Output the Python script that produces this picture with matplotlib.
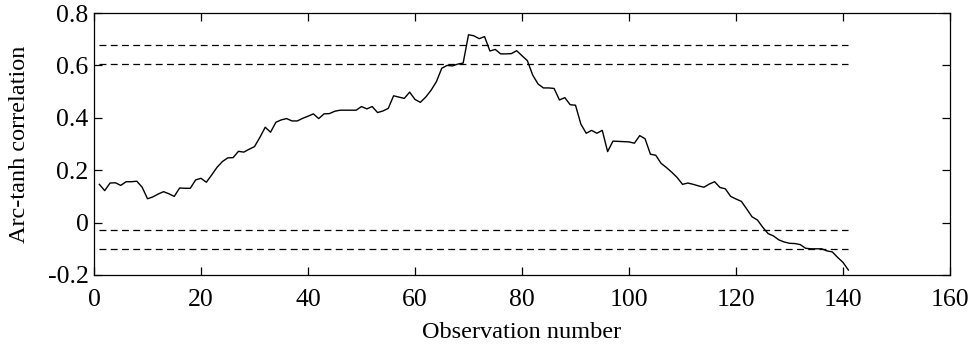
import matplotlib
matplotlib.use("Agg")
import matplotlib.pyplot as plt
import numpy as np

plt.rcParams['font.family'] = ['Liberation Serif', 'DejaVu Serif']

observation = list(range(1, 142))
arctanh_corr = [
    0.146, 0.122, 0.151, 0.152, 0.142, 0.156, 0.156, 0.158, 0.135, 0.091,
    0.098, 0.109, 0.118, 0.110, 0.100, 0.132, 0.131, 0.131, 0.163, 0.169,
    0.154, 0.182, 0.211, 0.233, 0.247, 0.248, 0.272, 0.269, 0.280, 0.290,
    0.325, 0.364, 0.345, 0.383, 0.392, 0.397, 0.388, 0.388, 0.398, 0.406,
    0.415, 0.397, 0.415, 0.416, 0.425, 0.429, 0.429, 0.429, 0.429, 0.443,
    0.434, 0.443, 0.420, 0.426, 0.436, 0.484, 0.479, 0.474, 0.498, 0.470,
    0.459, 0.479, 0.505, 0.538, 0.589, 0.600, 0.598, 0.605, 0.609, 0.717,
    0.713, 0.702, 0.710, 0.655, 0.661, 0.644, 0.644, 0.645, 0.656, 0.637,
    0.618, 0.563, 0.529, 0.514, 0.514, 0.512, 0.468, 0.477, 0.450, 0.448,
    0.376, 0.341, 0.352, 0.341, 0.352, 0.271, 0.311, 0.310, 0.309, 0.308,
    0.303, 0.332, 0.320, 0.261, 0.257, 0.226, 0.210, 0.192, 0.172, 0.146,
    0.151, 0.146, 0.140, 0.135, 0.147, 0.156, 0.134, 0.129, 0.100, 0.090,
    0.081, 0.052, 0.022, 0.010, -0.018, -0.042, -0.051, -0.066, -0.074, -0.079,
    -0.080, -0.084, -0.098, -0.100, -0.100, -0.100, -0.108, -0.112, -0.133, -0.152,
    -0.181,
]
bound_levels = [0.678, 0.605, -0.028, -0.100]
bound_start, bound_end = 1, 141

x_ticks = [0, 20, 40, 60, 80, 100, 120, 140, 160]
y_ticks = [-0.2, 0, 0.2, 0.4, 0.6, 0.8]
y_tick_labels = ['-0.2', '0', '0.2', '0.4', '0.6', '0.8']

fig = plt.figure(figsize=(9.71, 3.44), dpi=100)
ax = fig.add_axes([0.0968, 0.2006, 0.8816, 0.7616])

for lvl in bound_levels:
    ax.plot([bound_start, bound_end], [lvl, lvl], color='black', lw=0.9,
            linestyle=(0, (5.5, 3.5)))
ax.plot(observation, arctanh_corr, color='black', lw=1.0)

ax.set_xlim(0, 160)
ax.set_ylim(-0.2, 0.8)
ax.set_xticks(x_ticks)
ax.set_yticks(y_ticks)
ax.set_yticklabels(y_tick_labels)
ax.tick_params(direction='in', length=6, width=0.9, top=True, right=True,
               labelsize=18.5)
ax.tick_params(axis='x', pad=10)
ax.tick_params(axis='y', pad=4)
for s in ax.spines.values():
    s.set_linewidth(0.9)
ax.set_xlabel('Observation number', fontsize=17.5)
ax.set_ylabel('Arc-tanh correlation', fontsize=17.5)
ax.xaxis.set_label_coords(0.5, -0.178)
ax.yaxis.set_label_coords(-0.075, 0.5)

fig.savefig('out.png', dpi=100)
